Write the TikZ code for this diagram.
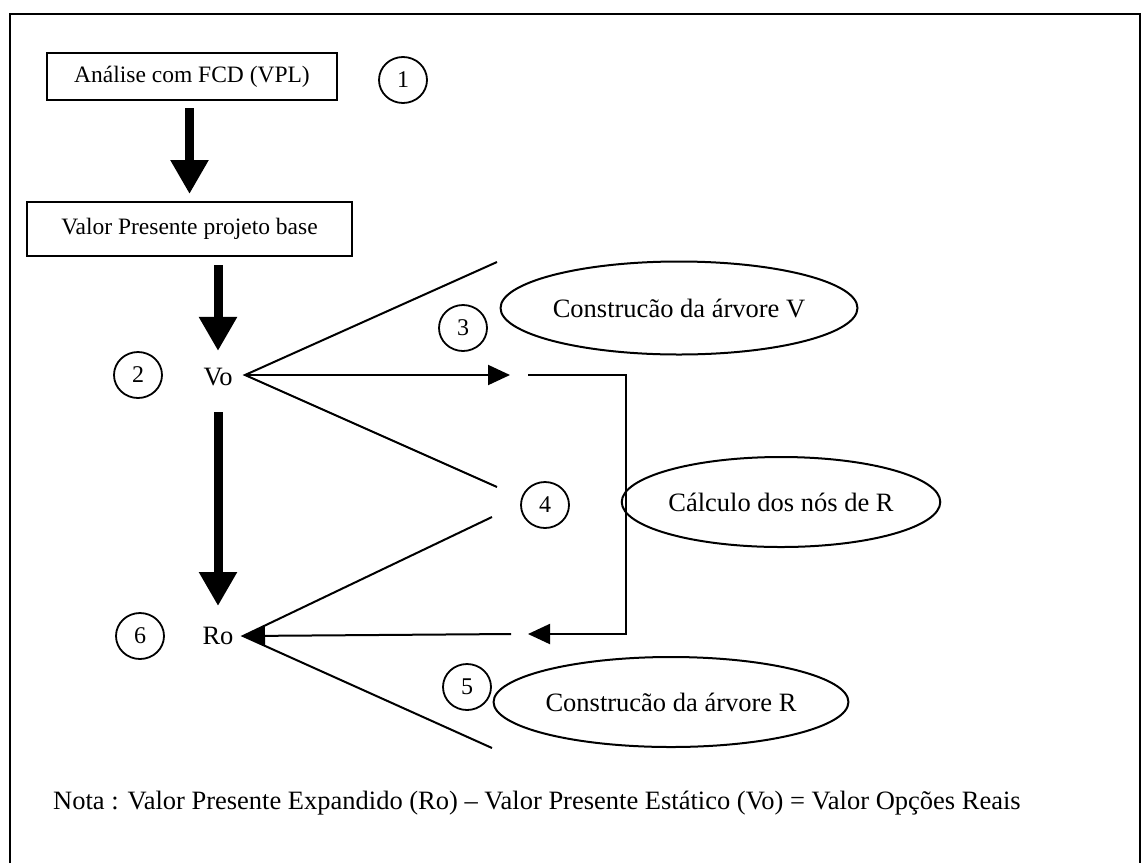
\documentclass[tikz,border=0pt]{standalone}
\usepackage{fontspec}
\setmainfont{Liberation Serif}
\usetikzlibrary{arrows.meta,shapes.geometric}

\begin{document}
\begin{tikzpicture}[x=1pt,y=-1pt,
  txt/.style={font=\fontsize{26.5}{30}\selectfont, inner sep=0pt},
  stepbox/.style={draw, line width=2pt, inner sep=0pt, font=\fontsize{23.5}{28}\selectfont},
  num/.style={draw, ellipse, line width=1.8pt, minimum width=48pt, minimum height=46pt, inner sep=0pt, font=\fontsize{24}{26}\selectfont},
  oval/.style={draw, ellipse, line width=2pt, inner sep=0pt, font=\fontsize{26.5}{30}\selectfont},
  bigarrow/.style={line width=9pt, -{Triangle[width=36pt,length=34pt]}},
  thinline/.style={line width=2pt},
  tiparrow/.style={line width=2pt, -{Triangle[width=20pt,length=22pt]}},
]
\useasboundingbox (0,0) rectangle (1142,863);

% outer frame
\draw[line width=2pt] (10,863) -- (10,14) -- (1140,14) -- (1140,863);

% boxes
\node[stepbox, minimum width=290pt, minimum height=47pt] (b1) at (192,76.5) {Análise com FCD (VPL)};
\node[stepbox, minimum width=325pt, minimum height=54pt] (b2) at (189.5,229) {Valor Presente projeto base};

% numbered markers
\node[num] (n1) at (403,80) {1};
\node[num] (n2) at (138,375) {2};
\node[num] (n3) at (463,328) {3};
\node[num] (n4) at (545,505) {4};
\node[num] (n5) at (467,687) {5};
\node[num] (n6) at (140,636) {6};

% values
\node[txt] (vo) at (218,377) {Vo};
\node[txt] (ro) at (218,636) {Ro};

% ovals
\node[oval, minimum width=308pt, minimum height=93pt] (ov) at (679,308) {Construcão da árvore V};
\node[oval, minimum width=282pt, minimum height=90pt] (oc) at (781,502) {Cálculo dos nós de R};
\node[oval, minimum width=307pt, minimum height=90pt] (orr) at (671,702) {Construcão da árvore R};

% note
\node[txt, anchor=base west] (nota) at (53,809) {Nota : Valor Presente Expandido (Ro) – Valor Presente Estático (Vo) = Valor Opções Reais};

% main flow arrows
\draw[bigarrow, shorten <=7pt, shorten >=7pt] (b1.south -| b2.north) -- (b2.north);
\draw[bigarrow, shorten <=8pt, shorten >=17pt] (b2.south -| vo.north) -- (vo.north);
\draw[bigarrow, shorten <=26pt, shorten >=21pt] (vo.south) -- (ro.north);

% tree from Vo
\coordinate (va) at (245,375);
\coordinate (vup) at (497,262);
\coordinate (vlow) at (497,487);
\coordinate (vmid) at (510,375);
\draw[thinline] (vup) -- (va) -- (vlow);
\draw[tiparrow] (va) -- (vmid);

% return path to Ro
\coordinate (bstart) at (528,375);
\coordinate (bcorner) at (626,634);
\coordinate (bend) at (528,634);
\draw[tiparrow] (bstart) -| (bcorner) -- (bend);

% tree into Ro
\coordinate (ra) at (243,636);
\coordinate (rup) at (492,517);
\coordinate (rlow) at (492,748);
\coordinate (rstart) at (511,634);
\draw[thinline] (rup) -- (ra) -- (rlow);
\draw[tiparrow] (rstart) -- (ra);

\end{tikzpicture}
\end{document}
